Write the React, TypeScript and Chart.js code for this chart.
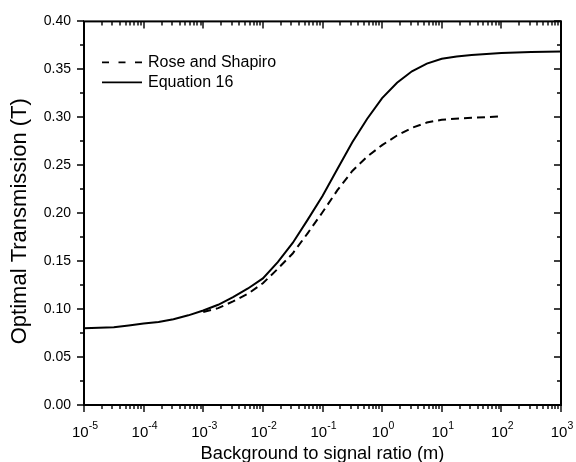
import React, { useEffect, useRef } from 'react';
import { Chart, registerables } from 'chart.js';

Chart.register(...registerables);

// ---- data (x given as log10 of background-to-signal ratio m) ----
const equation16Exp = [
  -5, -4.75, -4.5, -4.25, -4, -3.75, -3.5, -3.25, -3, -2.75, -2.5, -2.25, -2, -1.75, -1.5,
  -1.25, -1, -0.75, -0.5, -0.25, 0, 0.25, 0.5, 0.75, 1, 1.25, 1.5, 2, 2.5, 3,
];
const equation16T = [
  0.08, 0.0805, 0.0812, 0.083, 0.085, 0.0866, 0.0895, 0.0935, 0.0985, 0.1045, 0.1125, 0.1215,
  0.132, 0.149, 0.169, 0.193, 0.218, 0.246, 0.274, 0.2985, 0.32, 0.336, 0.348, 0.356, 0.361,
  0.3635, 0.365, 0.367, 0.3682, 0.3685,
];
const roseShapiroExp = [
  -3, -2.75, -2.5, -2.25, -2, -1.75, -1.5, -1.25, -1, -0.75, -0.5, -0.25, 0, 0.25, 0.5, 0.75,
  1, 1.5, 2,
];
const roseShapiroT = [
  0.097, 0.101, 0.108, 0.116, 0.127, 0.142, 0.158, 0.179, 0.201, 0.224, 0.244, 0.259, 0.271,
  0.281, 0.289, 0.2945, 0.2975, 0.2995, 0.301,
];
const seriesLabels = ['Rose and Shapiro', 'Equation 16'];
const xTickExponents = [-5, -4, -3, -2, -1, 0, 1, 2, 3];
const xMinorMultipliers = [2, 3, 4, 5, 6, 7, 8, 9];
const yTicks = [0, 0.05, 0.1, 0.15, 0.2, 0.25, 0.3, 0.35, 0.4];
const yMinorTicks = [0.025, 0.075, 0.125, 0.175, 0.225, 0.275, 0.325, 0.375];
const xTitle = 'Background to signal ratio (m)';
const yTitle = 'Optimal Transmission (T)';

const FONT = "'Liberation Sans', Arial, Helvetica, sans-serif";

const framePlugin = {
  id: 'frameAndLegend',
  afterDraw(chart: any) {
    const { ctx, chartArea } = chart;
    const { left, right, top, bottom } = chartArea;
    const xs = chart.scales.x;
    const ys = chart.scales.y;
    ctx.save();
    ctx.strokeStyle = '#000';
    ctx.fillStyle = '#000';
    ctx.lineWidth = 1.4;
    ctx.beginPath();
    const xMaj = xTickExponents.map((e) => Math.pow(10, e));
    const xMin: number[] = [];
    xTickExponents.slice(0, -1).forEach((e) =>
      xMinorMultipliers.forEach((k) => xMin.push(k * Math.pow(10, e)))
    );
    const vx = (v: number, len: number) => {
      const p = Math.round(xs.getPixelForValue(v));
      ctx.moveTo(p, bottom);
      ctx.lineTo(p, bottom + len);
      ctx.moveTo(p, top);
      ctx.lineTo(p, top + len);
    };
    xMaj.forEach((v) => vx(v, 7));
    xMin.forEach((v) => vx(v, 4));
    const hy = (v: number, len: number) => {
      const p = Math.round(ys.getPixelForValue(v));
      ctx.moveTo(left - len, p);
      ctx.lineTo(left, p);
      ctx.moveTo(right - len, p);
      ctx.lineTo(right, p);
    };
    yTicks.forEach((v) => hy(v, 7));
    yMinorTicks.forEach((v) => hy(v, 4));
    ctx.stroke();
    ctx.lineWidth = 2;
    ctx.strokeRect(left, top, right - left, bottom - top);

    // x tick labels: 10 with superscript exponent
    ctx.textBaseline = 'alphabetic';
    ctx.textAlign = 'left';
    xTickExponents.forEach((e) => {
      const px = xs.getPixelForValue(Math.pow(10, e));
      const base = '10';
      const sup = e < 0 ? '-' + String(-e) : String(e);
      ctx.font = `15px ${FONT}`;
      const wb = ctx.measureText(base).width;
      ctx.font = `10.5px ${FONT}`;
      const ws = ctx.measureText(sup).width;
      const x0 = px - (wb + ws) / 2 + 1;
      ctx.font = `15px ${FONT}`;
      ctx.fillText(base, x0, bottom + 31.7);
      ctx.font = `10.5px ${FONT}`;
      ctx.fillText(sup, x0 + wb, bottom + 24.3);
    });

    // y axis title
    ctx.save();
    ctx.translate(26, (top + bottom) / 2 + 8);
    ctx.rotate(-Math.PI / 2);
    ctx.font = `22px ${FONT}`;
    ctx.textAlign = 'center';
    ctx.textBaseline = 'alphabetic';
    ctx.fillText(yTitle, 0, 0);
    ctx.restore();

    // legend
    const lx0 = left + 18;
    const lx1 = left + 58;
    const rows = [top + 41, top + 61];
    ctx.lineWidth = 1.8;
    ctx.setLineDash([7, 9.5]);
    ctx.beginPath();
    ctx.moveTo(lx0, rows[0]);
    ctx.lineTo(lx1, rows[0]);
    ctx.stroke();
    ctx.setLineDash([]);
    ctx.beginPath();
    ctx.moveTo(lx0, rows[1]);
    ctx.lineTo(lx1, rows[1]);
    ctx.stroke();
    ctx.font = `16px ${FONT}`;
    ctx.textBaseline = 'middle';
    ctx.textAlign = 'left';
    ctx.fillText(seriesLabels[0], lx1 + 6, rows[0]);
    ctx.fillText(seriesLabels[1], lx1 + 6, rows[1]);
    ctx.restore();
  },
};

export default function App() {
  const ref = useRef<HTMLCanvasElement | null>(null);
  useEffect(() => {
    if (!ref.current) return;
    const chart = new Chart(ref.current, {
      type: 'line',
      data: {
        datasets: [
          {
            label: seriesLabels[0],
            data: roseShapiroExp.map((e, i) => ({ x: Math.pow(10, e), y: roseShapiroT[i] })),
            borderColor: '#000',
            borderWidth: 2,
            borderDash: [8, 5],
            pointRadius: 0,
            tension: 0,
            fill: false,
          },
          {
            label: seriesLabels[1],
            data: equation16Exp.map((e, i) => ({ x: Math.pow(10, e), y: equation16T[i] })),
            borderColor: '#000',
            borderWidth: 2,
            pointRadius: 0,
            tension: 0,
            fill: false,
          },
        ],
      },
      options: {
        responsive: false,
        animation: false,
        events: [],
        layout: { padding: { top: 19.5, right: 15, left: 0, bottom: 0 } },
        plugins: { legend: { display: false }, tooltip: { enabled: false } },
        scales: {
          x: {
            type: 'logarithmic',
            min: 1e-5,
            max: 1e3,
            grid: { display: false, drawTicks: false },
            border: { display: false },
            afterBuildTicks: (s: any) => {
              s.ticks = xTickExponents.map((e) => ({ value: Math.pow(10, e) }));
            },
            afterFit: (s: any) => {
              s.height = 57;
            },
            ticks: { display: false },
            title: {
              display: true,
              text: xTitle,
              color: '#000',
              font: { family: FONT, size: 18.3, lineHeight: 1 },
              padding: { top: 0, bottom: -1 },
            },
          },
          y: {
            type: 'linear',
            min: 0,
            max: 0.4,
            grid: { display: false, drawTicks: false },
            border: { display: false },
            afterBuildTicks: (s: any) => {
              s.ticks = yTicks.map((v) => ({ value: v }));
            },
            afterFit: (s: any) => {
              s.width = 84;
            },
            ticks: {
              padding: 13,
              color: '#000',
              font: { family: FONT, size: 14 },
              callback: (v: any) => Number(v).toFixed(2),
            },
          },
        },
      },
      plugins: [framePlugin],
    } as any);
    return () => chart.destroy();
  }, []);
  return (
    <div style={{ position: 'absolute', left: 0, top: 0, width: 576, height: 462, background: '#fff' }}>
      <canvas ref={ref} width={576} height={462} style={{ display: 'block' }} />
    </div>
  );
}
